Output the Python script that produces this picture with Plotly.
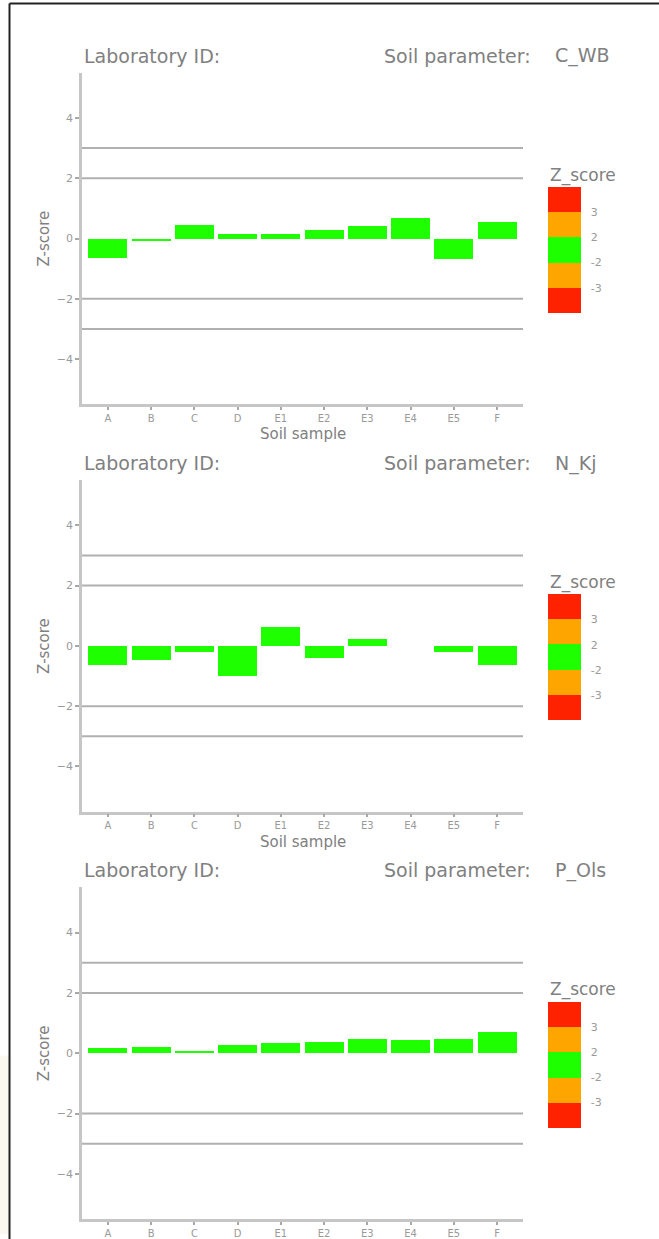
import plotly.graph_objects as go

W, H = 659, 1239

samples = ["A", "B", "C", "D", "E1", "E2", "E3", "E4", "E5", "F"]
parameters = ["C_WB", "N_Kj", "P_Ols"]
z_c_wb = [-0.65, -0.08, 0.45, 0.17, 0.17, 0.3, 0.42, 0.68, -0.68, 0.55]
z_n_kj = [-0.63, -0.48, -0.22, -1.0, 0.62, -0.4, 0.22, None, -0.2, -0.63]
z_p_ols = [0.15, 0.2, 0.03, 0.27, 0.32, 0.37, 0.47, 0.43, 0.45, 0.7]
z_values = [z_c_wb, z_n_kj, z_p_ols]
ref_lines = [3, 2, -2, -3]
y_ticks = [-4, -2, 0, 2, 4]
legend_ticks = [1, 2, 3, 4]
legend_labels = ["-3", "-2", "2", "3"]

RED, ORANGE, GREEN = "#FF2200", "#FFA500", "#1EFF00"
FONT = "DejaVu Sans"
TXT = "#808080"
TICK = "#9a9a9a"
LINE = "#C6C6C6"


def zcolor(v):
    if v is None:
        return GREEN
    a = abs(v)
    if a <= 2:
        return GREEN
    if a <= 3:
        return ORANGE
    return RED


def px_x(p):
    return p / W


def px_y(p):
    return 1 - p / H


plot_left, plot_right = 82, 523
panel_tops = [73, 482, 891]
panel_h = 333

fig = go.Figure()
annotations = []
shapes = []

cscale = [[0, RED], [0.2, RED], [0.2, ORANGE], [0.4, ORANGE], [0.4, GREEN],
          [0.6, GREEN], [0.6, ORANGE], [0.8, ORANGE], [0.8, RED], [1, RED]]

for i, (param, vals) in enumerate(zip(parameters, z_values)):
    n = "" if i == 0 else str(i + 1)
    top = panel_tops[i]
    bot = top + panel_h
    mid = (top + bot) / 2
    fig.add_trace(go.Bar(
        x=samples, y=vals, width=0.9,
        marker=dict(color=[zcolor(v) for v in vals], line=dict(width=0)),
        xaxis="x" + n, yaxis="y" + n, showlegend=False,
    ))
    # legend colour bar
    fig.add_trace(go.Scatter(
        x=[samples[0]], y=[100], mode="markers", xaxis="x" + n, yaxis="y" + n,
        showlegend=False, hoverinfo="skip",
        marker=dict(size=1, color=[0], cmin=0, cmax=5, colorscale=cscale,
                    showscale=True,
                    colorbar=dict(
                        thickness=33, thicknessmode="pixels",
                        len=126, lenmode="pixels",
                        x=px_x(548), xanchor="left", xpad=0,
                        y=px_y(top + 178), yanchor="middle", ypad=0,
                        outlinewidth=0, tickvals=legend_ticks, ticktext=legend_labels,
                        ticks="outside", ticklen=8, tickcolor="rgba(0,0,0,0)",
                        tickfont=dict(family=FONT, size=11, color=TICK),
                    )),
    ))
    fig.layout["xaxis" + n] = dict(
        domain=[px_x(plot_left), px_x(plot_right)], anchor="y" + n,
        type="category", range=[-0.6, 9.6], showline=True, linecolor=LINE,
        linewidth=2.5, ticks="outside", ticklen=3, tickcolor="#a8a8a8",
        tickwidth=1.5, showgrid=False, zeroline=False,
        tickfont=dict(family=FONT, size=10, color=TICK),
        fixedrange=True,
    )
    fig.layout["yaxis" + n] = dict(
        domain=[px_y(bot), px_y(top)], anchor="x" + n,
        range=[-5.5, 5.5], tickvals=y_ticks, showline=True, linecolor=LINE,
        linewidth=2.5, ticks="outside", ticklen=4, tickcolor="#a8a8a8",
        tickwidth=1.5, showgrid=False, zeroline=False,
        tickfont=dict(family=FONT, size=11, color=TICK),
        fixedrange=True,
    )
    for rl in ref_lines:
        shapes.append(dict(type="line", xref="x" + n + " domain", yref="y" + n,
                           x0=0, x1=1, y0=rl, y1=rl,
                           line=dict(color="#B0B0B0", width=2), layer="below"))
    annotations += [
        dict(text="Laboratory ID:", x=px_x(82), y=px_y(top - 17), xref="paper", yref="paper",
             xanchor="left", yanchor="middle", showarrow=False,
             font=dict(family=FONT, size=19, color=TXT)),
        dict(text="Soil parameter:", x=px_x(382), y=px_y(top - 17), xref="paper", yref="paper",
             xanchor="left", yanchor="middle", showarrow=False,
             font=dict(family=FONT, size=19, color=TXT)),
        dict(text=param, x=px_x(553), y=px_y(top - 17), xref="paper", yref="paper",
             xanchor="left", yanchor="middle", showarrow=False,
             font=dict(family=FONT, size=19, color=TXT)),
        dict(text="Z_score", x=px_x(548), y=px_y(top + 103), xref="paper", yref="paper",
             xanchor="left", yanchor="middle", showarrow=False,
             font=dict(family=FONT, size=17, color=TXT)),
        dict(text="Z-score", x=px_x(44), y=px_y(mid), xref="paper", yref="paper",
             xanchor="center", yanchor="middle", showarrow=False, textangle=-90,
             font=dict(family=FONT, size=15, color=TXT)),
    ]
    if bot + 40 < H:
        annotations.append(
            dict(text="Soil sample", x=px_x((plot_left + plot_right) / 2), y=px_y(bot + 30),
                 xref="paper", yref="paper", xanchor="center", yanchor="middle",
                 showarrow=False, font=dict(family=FONT, size=15, color=TXT)))

# outer frame
shapes += [
    dict(type="rect", xref="paper", yref="paper", x0=0, x1=px_x(8.5), y0=0, y1=px_y(1060),
         fillcolor="#FBF8EF", line=dict(width=0), layer="below"),
    dict(type="line", xref="paper", yref="paper", x0=px_x(9.5), x1=1.01,
         y0=px_y(3.5), y1=px_y(3.5), line=dict(color="#222222", width=2)),
    dict(type="line", xref="paper", yref="paper", x0=px_x(9.5), x1=px_x(9.5),
         y0=px_y(3.5), y1=-0.01, line=dict(color="#222222", width=2)),
]

fig.update_layout(
    width=W, height=H, margin=dict(l=0, r=0, t=0, b=0),
    paper_bgcolor="white", plot_bgcolor="white",
    shapes=shapes, annotations=annotations, bargap=0,
    font=dict(family=FONT),
)

fig.write_html(
    "out.html",
    config={"displayModeBar": False},
    post_script="document.body.style.margin='0';document.body.style.overflow='hidden';",
)
